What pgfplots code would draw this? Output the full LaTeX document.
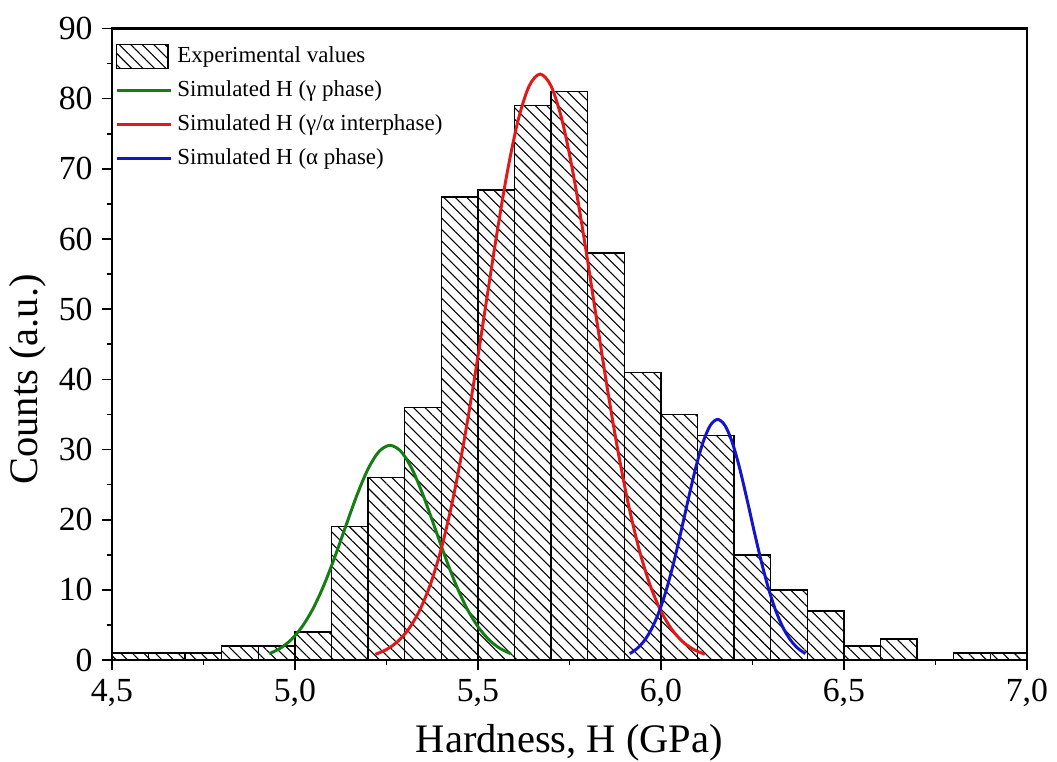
\documentclass[border=0pt]{standalone}
\usepackage{fontspec}
\setmainfont{Liberation Serif}
\usepackage{pgfplots}
\pgfplotsset{compat=1.18}
\usetikzlibrary{patterns.meta}

% diagonal hatching used for the histogram bars
\tikzset{hatch/.style={pattern={Lines[angle=-45,distance=3pt,line width=0.4pt]}}}
\pgfplotsset{
  longline/.style={legend image code/.code={\draw[##1] (0pt,0pt) -- (20pt,0pt);}},
  hatchbox/.style={legend image code/.code={\draw[black, line width=0.5pt, hatch] (0pt,-4.4pt) rectangle (19pt,4.4pt);}},
}

\begin{document}
\begin{tikzpicture}
\begin{axis}[
  scale only axis,
  width=339pt, height=234pt,
  xmin=4.5, xmax=7.0, ymin=0, ymax=90,
  xtick={4.5,5.0,...,7.0}, minor x tick num=1,
  ytick={0,10,...,90}, minor y tick num=1,
  tick align=outside, xtick pos=bottom, ytick pos=left,
  major tick length=3.6pt, minor tick length=1.9pt,
  tick style={black, line width=0.6pt},
  axis line style={line width=0.8pt},
  /pgf/number format/assume math mode=true,
  xticklabel style={/pgf/number format/.cd, fixed, fixed zerofill, precision=1, use comma},
  yticklabel style={/pgf/number format/.cd, fixed, precision=0},
  ticklabel style={font=\fontsize{12.5}{14}\selectfont},
  xlabel={Hardness, H (GPa)},
  ylabel={Counts (a.u.)},
  label style={font=\fontsize{15}{18}\selectfont},
  xlabel style={inner sep=0pt, yshift=-3pt},
  ylabel style={yshift=-2pt, xshift=-13pt},
  legend style={draw=none, fill=none, at={(0.0,0.985)}, anchor=north west,
    font=\fontsize{8.5}{10}\selectfont, row sep=1.2pt, inner sep=1pt},
  legend cell align=left,
]
% histogram of measured hardness values (left bin edges, last edge repeated)
\addplot[ybar interval, draw=black, line width=0.5pt, hatch, hatchbox]
  coordinates {
  (4.5,1) (4.6,1) (4.7,1) (4.8,2) (4.9,2) (5.0,4) (5.1,19) (5.2,26)
  (5.3,36) (5.4,66) (5.5,67) (5.6,79) (5.7,81) (5.8,58) (5.9,41)
  (6.0,35) (6.1,32) (6.2,15) (6.3,10) (6.4,7) (6.5,2) (6.6,3)
  (6.7,0) (6.8,1) (6.9,1) (7.0,1)
  };
\addlegendentry{Experimental values}

\addplot[smooth, color={rgb,255:red,20;green,125;blue,20}, line width=1.1pt, longline]
  coordinates {
  (4.93,0.91) (4.96,1.68) (4.99,2.91) (5.02,4.78) (5.05,7.37) (5.08,10.76)
  (5.11,14.81) (5.14,19.23) (5.17,23.56) (5.20,27.24) (5.23,29.73) (5.26,30.6)
  (5.29,29.73) (5.32,27.24) (5.35,23.56) (5.38,19.23) (5.41,14.81) (5.44,10.76)
  (5.47,7.37) (5.50,4.78) (5.53,2.91) (5.56,1.68) (5.59,0.91)
  };
\addlegendentry{Simulated H (γ phase)}

\addplot[smooth, color={rgb,255:red,225;green,25;blue,25}, line width=1.1pt, longline]
  coordinates {
  (5.22,0.83) (5.25,1.50) (5.28,2.61) (5.31,4.36) (5.34,6.99) (5.37,10.75)
  (5.40,15.87) (5.43,22.49) (5.46,30.58) (5.49,39.91) (5.52,50.02) (5.55,60.15)
  (5.58,69.43) (5.61,76.93) (5.64,81.80) (5.67,83.5) (5.70,81.80) (5.73,76.93)
  (5.76,69.43) (5.79,60.15) (5.82,50.02) (5.85,39.91) (5.88,30.58) (5.91,22.49)
  (5.94,15.87) (5.97,10.75) (6.00,6.99) (6.03,4.36) (6.06,2.61) (6.09,1.50)
  (6.12,0.83)
  };
\addlegendentry{Simulated H (γ/α interphase)}

\addplot[smooth, color={rgb,255:red,20;green,20;blue,200}, line width=1.1pt, longline]
  coordinates {
  (5.915,0.92) (5.935,1.65) (5.955,2.79) (5.975,4.49) (5.995,6.88) (6.015,10.03)
  (6.035,13.90) (6.055,18.32) (6.075,22.96) (6.095,27.37) (6.115,31.02) (6.135,33.45)
  (6.155,34.3) (6.175,33.45) (6.195,31.02) (6.215,27.37) (6.235,22.96) (6.255,18.32)
  (6.275,13.90) (6.295,10.03) (6.315,6.88) (6.335,4.49) (6.355,2.79) (6.375,1.65)
  (6.395,0.92)
  };
\addlegendentry{Simulated H (α phase)}
\end{axis}
% a little white space above the top tick label
\path (current bounding box.north) ++(0,3pt);
\end{tikzpicture}
\end{document}
